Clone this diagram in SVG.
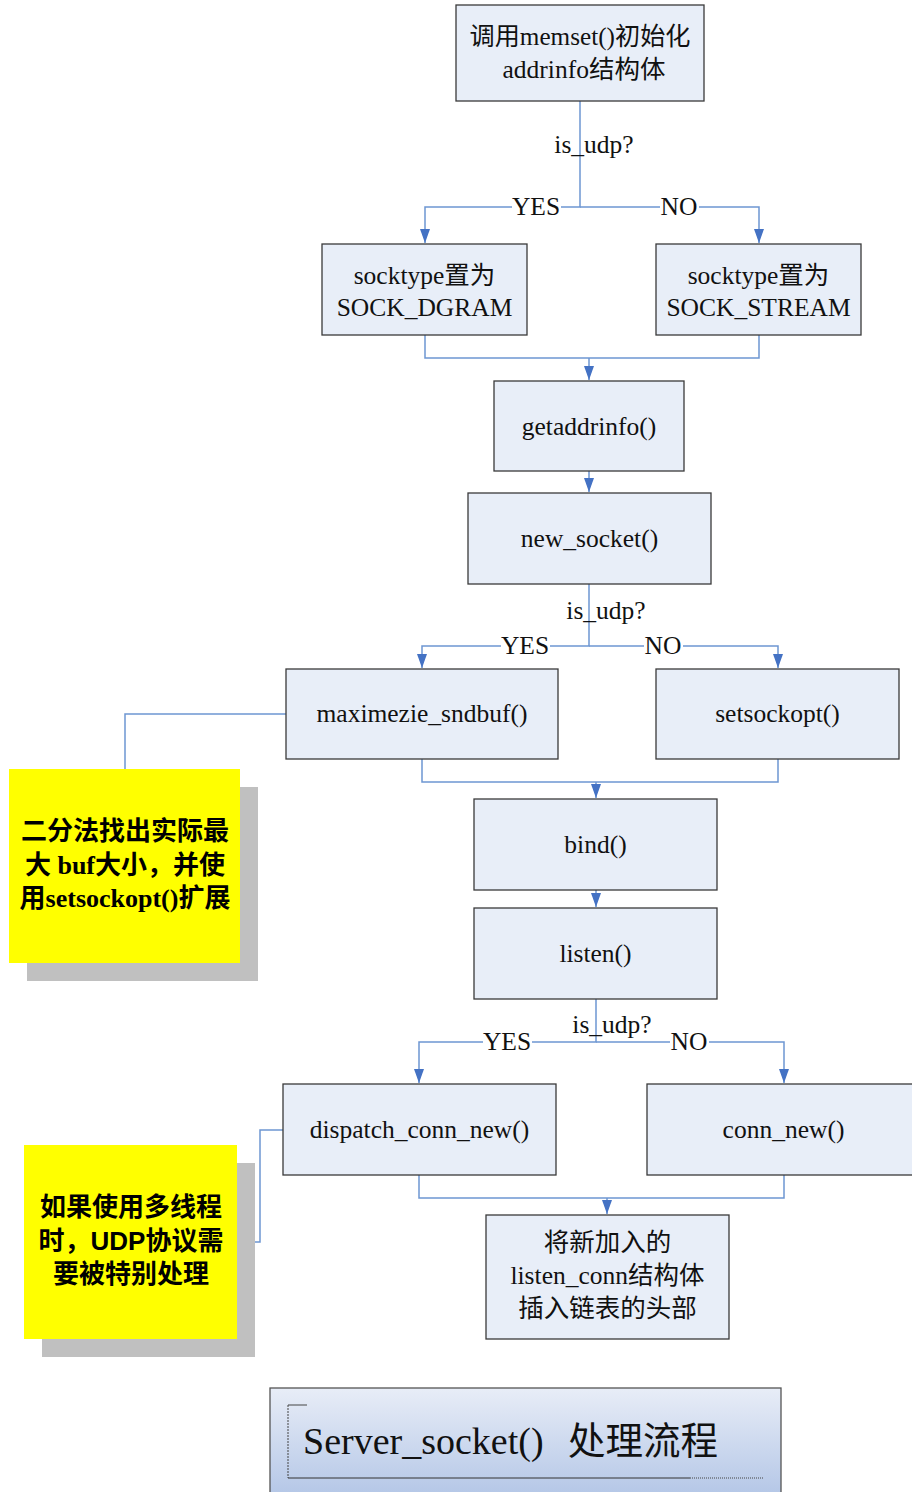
<svg xmlns="http://www.w3.org/2000/svg" width="912" height="1492" viewBox="0 0 912 1492">
<defs>
<marker id="arr" markerUnits="userSpaceOnUse" markerWidth="14" markerHeight="10" refX="14" refY="5" orient="auto" viewBox="0 0 14 10">
<path d="M0,0 L14,5 L0,10 Z" fill="#4472c4"/>
</marker>
<linearGradient id="tg" x1="0" y1="0" x2="0" y2="1">
<stop offset="0" stop-color="#e8edf7"/>
<stop offset="1" stop-color="#b2c5e6"/>
</linearGradient>
<style>
.box{fill:#e8eef8;stroke:#3a3a3a;stroke-width:1.3}
.t{font-family:"Liberation Serif","Noto Sans CJK SC",serif;font-size:25.5px;fill:#111;text-anchor:middle}
.lbl{font-family:"Liberation Serif","Noto Sans CJK SC",serif;font-size:25.5px;fill:#111;text-anchor:middle}
.c{fill:none;stroke:#6d96d2;stroke-width:1.5}
.lb{fill:#fff}
.note{fill:#ffff00}
.shadow{fill:#c0c0c0}
.n1{font-family:"Liberation Serif","Noto Sans CJK SC",serif;font-size:26px;font-weight:bold;fill:#000;text-anchor:middle}
.n2{font-family:"Liberation Sans","Noto Sans CJK SC",sans-serif;font-size:26px;font-weight:bold;fill:#000;text-anchor:middle}
.tt{font-family:"Liberation Serif","Noto Sans CJK SC",serif;font-size:38px;fill:#111}
</style>
</defs>
<rect width="912" height="1492" fill="#fff"/>

<g id="connectors">
<path class="c" d="M580,101 V207 H425 V243" marker-end="url(#arr)"/>
<path class="c" d="M580,207 H759 V243" marker-end="url(#arr)"/>
<path class="c" d="M425,335 V358 H759 V335"/>
<path class="c" d="M589,358 V380" marker-end="url(#arr)"/>
<path class="c" d="M589,471 V492" marker-end="url(#arr)"/>
<path class="c" d="M589,584 V646 H422 V668" marker-end="url(#arr)"/>
<path class="c" d="M589,646 H778 V668" marker-end="url(#arr)"/>
<path class="c" d="M422,759 V782 H778 V759"/>
<path class="c" d="M596,782 V798" marker-end="url(#arr)"/>
<path class="c" d="M286,714 H125 V769"/>
<path class="c" d="M596,890 V907" marker-end="url(#arr)"/>
<path class="c" d="M596,999 V1042 H419 V1083" marker-end="url(#arr)"/>
<path class="c" d="M596,1042 H784 V1083" marker-end="url(#arr)"/>
<path class="c" d="M419,1175 V1198 H784 V1175"/>
<path class="c" d="M607,1198 V1214" marker-end="url(#arr)"/>
<path class="c" d="M283,1130 H260 V1242 H237"/>

<rect class="lb" x="512" y="195" width="49" height="24"/>
<rect class="lb" x="660" y="195" width="39" height="24"/>
<rect class="lb" x="501" y="634" width="49" height="24"/>
<rect class="lb" x="644" y="634" width="39" height="24"/>
<rect class="lb" x="483" y="1030" width="49" height="24"/>
<rect class="lb" x="670" y="1030" width="39" height="24"/>
<text class="lbl" x="594" y="153">is_udp?</text>
<text class="lbl" x="536" y="215">YES</text>
<text class="lbl" x="679" y="215">NO</text>
<text class="lbl" x="606" y="619">is_udp?</text>
<text class="lbl" x="525" y="654">YES</text>
<text class="lbl" x="663" y="654">NO</text>
<text class="lbl" x="612" y="1033">is_udp?</text>
<text class="lbl" x="507" y="1050">YES</text>
<text class="lbl" x="689" y="1050">NO</text>
</g>

<g id="n_memset">
<rect class="box" x="456" y="5" width="248" height="96"/>
<text class="t" x="580" y="45" textLength="221" lengthAdjust="spacingAndGlyphs">调用memset()初始化</text>
<text class="t" x="584" y="78">addrinfo结构体</text>
</g>
<g id="n_dgram">
<rect class="box" x="322" y="244" width="205" height="91"/>
<text class="t" x="424.5" y="284">socktype置为</text>
<text class="t" x="424.5" y="316">SOCK_DGRAM</text>
</g>
<g id="n_stream">
<rect class="box" x="656" y="244" width="205" height="91"/>
<text class="t" x="758.5" y="284">socktype置为</text>
<text class="t" x="758.5" y="316">SOCK_STREAM</text>
</g>
<g id="n_getaddrinfo">
<rect class="box" x="494" y="381" width="190" height="90"/>
<text class="t" x="589" y="435">getaddrinfo()</text>
</g>
<g id="n_new_socket">
<rect class="box" x="468" y="493" width="243" height="91"/>
<text class="t" x="589.5" y="547">new_socket()</text>
</g>
<g id="n_maximezie">
<rect class="box" x="286" y="669" width="272" height="90"/>
<text class="t" x="422" y="722">maximezie_sndbuf()</text>
</g>
<g id="n_setsockopt">
<rect class="box" x="656" y="669" width="243" height="90"/>
<text class="t" x="777.5" y="722">setsockopt()</text>
</g>
<g id="n_bind">
<rect class="box" x="474" y="799" width="243" height="91"/>
<text class="t" x="595.5" y="853">bind()</text>
</g>
<g id="n_listen">
<rect class="box" x="474" y="908" width="243" height="91"/>
<text class="t" x="595.5" y="962">listen()</text>
</g>
<g id="n_dispatch">
<rect class="box" x="283" y="1084" width="273" height="91"/>
<text class="t" x="419.5" y="1138">dispatch_conn_new()</text>
</g>
<g id="n_conn_new">
<rect class="box" x="647" y="1084" width="272" height="91"/>
<text class="t" x="783.5" y="1138">conn_new()</text>
</g>
<g id="n_insert">
<rect class="box" x="486" y="1215" width="243" height="124"/>
<text class="t" x="607.5" y="1251">将新加入的</text>
<text class="t" x="607.5" y="1284">listen_conn结构体</text>
<text class="t" x="607.5" y="1317">插入链表的头部</text>
</g>

<g id="note1">
<rect class="shadow" x="27" y="787" width="231" height="194"/>
<rect class="note" x="9" y="769" width="231" height="194"/>
<text class="n1" x="125" y="840">二分法找出实际最</text>
<text class="n1" x="125" y="874">大 buf大小，并使</text>
<text class="n1" x="125" y="907">用setsockopt()扩展</text>
</g>
<g id="note2">
<rect class="shadow" x="42" y="1163" width="213" height="194"/>
<rect class="note" x="24" y="1145" width="213" height="194"/>
<text class="n2" x="131" y="1216">如果使用多线程</text>
<text class="n2" x="131" y="1250">时，UDP协议需</text>
<text class="n2" x="131" y="1283">要被特别处理</text>
</g>

<g id="title">
<rect x="270" y="1388" width="511" height="112" fill="url(#tg)" stroke="#555" stroke-width="1.3"/>
<path d="M307,1405 H288" fill="none" stroke="#444" stroke-width="1"/>
<path d="M288,1405 V1478" fill="none" stroke="#444" stroke-width="1" stroke-dasharray="2,1"/>
<path d="M288,1478 H690" fill="none" stroke="#333" stroke-width="1"/>
<path d="M690,1478 H763" fill="none" stroke="#444" stroke-width="1" stroke-dasharray="1,1"/>
<text class="tt" x="303" y="1454">Server_socket()</text>
<text class="tt" x="568" y="1454" textLength="150" lengthAdjust="spacingAndGlyphs">处理流程</text>
</g>
</svg>
